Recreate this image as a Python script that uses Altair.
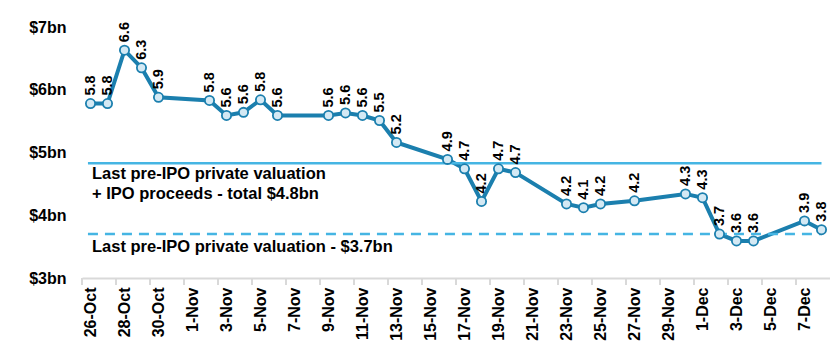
import json
import altair as alt
import pandas as pd

# ---- data ----
axis_days = [
    "26-Oct", "27-Oct", "28-Oct", "29-Oct", "30-Oct", "31-Oct",
    "1-Nov", "2-Nov", "3-Nov", "4-Nov", "5-Nov", "6-Nov", "7-Nov", "8-Nov",
    "9-Nov", "10-Nov", "11-Nov", "12-Nov", "13-Nov", "14-Nov", "15-Nov",
    "16-Nov", "17-Nov", "18-Nov", "19-Nov", "20-Nov", "21-Nov", "22-Nov",
    "23-Nov", "24-Nov", "25-Nov", "26-Nov", "27-Nov", "28-Nov", "29-Nov",
    "30-Nov", "1-Dec", "2-Dec", "3-Dec", "4-Dec", "5-Dec", "6-Dec", "7-Dec",
    "8-Dec",
]
tick_labels = axis_days[::2]

dates = [
    "26-Oct", "27-Oct", "28-Oct", "29-Oct", "30-Oct",
    "2-Nov", "3-Nov", "4-Nov", "5-Nov", "6-Nov",
    "9-Nov", "10-Nov", "11-Nov", "12-Nov", "13-Nov",
    "16-Nov", "17-Nov", "18-Nov", "19-Nov", "20-Nov",
    "23-Nov", "24-Nov", "25-Nov", "27-Nov", "30-Nov",
    "1-Dec", "2-Dec", "3-Dec", "4-Dec", "7-Dec", "8-Dec",
]
values = [
    5.78, 5.78, 6.63, 6.35, 5.88,
    5.83, 5.59, 5.64, 5.84, 5.59,
    5.59, 5.63, 5.59, 5.51, 5.16,
    4.89, 4.74, 4.22, 4.74, 4.68,
    4.18, 4.12, 4.18, 4.23, 4.34,
    4.28, 3.70, 3.59, 3.59, 3.91, 3.77,
]

ref_values = [4.83, 3.70]
ref_styles = ["solid", "dashed"]
annotation_lines = [
    "Last pre-IPO private valuation",
    "+ IPO proceeds - total $4.8bn",
    "Last pre-IPO private valuation - $3.7bn",
]
y_ticks = [3, 4, 5, 6, 7]

# ---- tables ----
df = pd.DataFrame({
    "date": dates,
    "pos": [axis_days.index(d) + 0.5 for d in dates],
    "value": values,
})
df["label"] = df["value"].map(lambda v: f"{v:.1f}")

ticks_df = pd.DataFrame({"pos": [axis_days.index(t) for t in tick_labels]})
ref_df = pd.DataFrame({"pos": [0.35, 0.35], "x1": [43.5, 43.5],
                       "value": ref_values, "style": ref_styles})

FONT = "Liberation Sans"
LINE = "#1b7fae"
REF = "#45b5e3"

xscale = alt.Scale(domain=[0, len(axis_days)], nice=False, zero=False)
yscale = alt.Scale(domain=[3, 7], nice=False, zero=False)

label_expr = json.dumps(axis_days) + "[floor(datum.value)]"

x_axis = alt.Axis(
    values=[axis_days.index(t) + 0.5 for t in tick_labels],
    labelExpr=label_expr, labelAngle=270, ticks=False, grid=False,
    domainColor="#d9d9d9", domainWidth=2, labelPadding=9,
    labelOverlap=False, labelBound=False,
    labelFont=FONT, labelFontWeight="bold", labelFontSize=16,
    labelColor="black", title=None,
)
y_axis = alt.Axis(
    values=y_ticks, labelExpr="'$' + datum.value + 'bn'",
    ticks=False, domain=False, grid=False, labelPadding=16,
    labelFont=FONT, labelFontWeight="bold", labelFontSize=16,
    labelColor="black", title=None,
)

X = alt.X("pos:Q", scale=xscale, axis=x_axis)
Y = alt.Y("value:Q", scale=yscale, axis=y_axis)

base = alt.Chart(df)

line = base.mark_line(color=LINE, strokeWidth=4).encode(x=X, y=Y)
points = base.mark_point(
    filled=True, fill="#d4e9f4", stroke=LINE, strokeWidth=1.8,
    size=85, opacity=1,
).encode(x=X, y=Y)

labels = base.mark_text(
    angle=270, align="left", baseline="middle", dx=8,
    font=FONT, fontWeight="bold", fontSize=14.5, color="black",
).encode(x=X, y=Y, text="label:N")

ref_solid = alt.Chart(ref_df[ref_df["style"] == "solid"]).mark_rule(
    color=REF, strokeWidth=2.5
).encode(x=X, x2="x1:Q", y=Y)
ref_dash = alt.Chart(ref_df[ref_df["style"] == "dashed"]).mark_rule(
    color=REF, strokeWidth=2.5, strokeDash=[10, 7]
).encode(x=X, x2="x1:Q", y=Y)

tick_marks = alt.Chart(ticks_df).mark_rule(color="#d9d9d9", strokeWidth=2).encode(
    x=X, y=alt.value(251), y2=alt.value(258)
)

ann_df = pd.DataFrame({"text": annotation_lines, "py": [152, 172, 225]})
annotations = alt.Chart(ann_df).mark_text(
    align="left", baseline="alphabetic", font=FONT, fontWeight="bold",
    fontSize=16.5, color="black",
).encode(x=alt.value(10), y=alt.Y("py:Q", scale=None), text="text:N")

chart = alt.layer(
    line, tick_marks, ref_solid, ref_dash, points, labels, annotations
).properties(
    width=748, height=251,
    autosize=alt.AutoSizeParams(type="none"),
    padding={"left": 74, "top": 19, "right": 0, "bottom": 66},
).configure_view(stroke=None).configure_axisX(labelOverlap=False)

chart.save("out.html", embed_options={"renderer": "svg", "actions": False})
